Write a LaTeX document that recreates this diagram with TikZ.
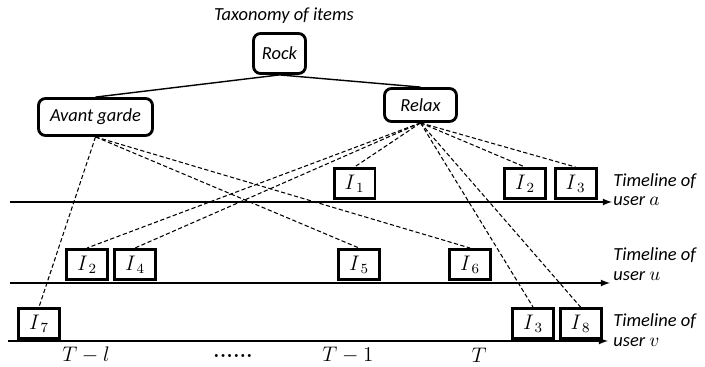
\documentclass[tikz,border=0pt]{standalone}
\usepackage{fontspec}
\setsansfont{Carlito}
\usepackage{tikz}
\tikzset{>=latex}

\begin{document}
\begin{tikzpicture}[x=0.02cm, y=-0.02cm,
    taxbox/.style={draw, line width=1.6pt, rounded corners=4pt, inner sep=0pt, font=\sffamily\itshape\fontsize{10.5}{12}\selectfont},
    itembox/.style={draw, line width=1.7pt, minimum width=0.82cm, minimum height=0.6cm, inner sep=0pt, font=\large},
    link/.style={line width=0.6pt, dash pattern=on 2.4pt off 1.4pt},
    timeline/.style={->, line width=0.8pt},
    tlabel/.style={anchor=west, align=left, inner sep=0pt, font=\sffamily\itshape\fontsize{10.5}{11}\selectfont}]
    \useasboundingbox (0, 0) rectangle (705, 367);
    % taxonomy
    \node (title) at (284, 16) [font=\sffamily\itshape\fontsize{10.5}{12}\selectfont] {Taxonomy of items};
    \node[taxbox, minimum width=1.04cm, minimum height=0.8cm] (rock) at (279.5, 53.5) {Rock};
    \node[taxbox, minimum width=2.28cm, minimum height=0.74cm] (avant) at (95.5, 117) {Avant garde};
    \node[taxbox, minimum width=1.44cm, minimum height=0.66cm] (relax) at (420.5, 105) {Relax};
    \draw[line width=0.8pt] (avant.north) -- (rock.south) -- (relax.north);
    % timelines
    \coordinate (a0) at (10, 202);  \coordinate (a1) at (612, 202);
    \coordinate (u0) at (10, 283);  \coordinate (u1) at (610, 283);
    \coordinate (v0) at (8, 341);   \coordinate (v1) at (608, 341);
    \draw[timeline] (a0) -- (a1);
    \draw[timeline] (u0) -- (u1);
    \draw[timeline] (v0) -- (v1);
    \node[tlabel] (la) at (613, 189.5) {Timeline of\\user $a$};
    \node[tlabel] (lu) at (613, 264) {Timeline of\\user $u$};
    \node[tlabel] (lv) at (613, 330) {Timeline of\\user $v$};
    % items
    \node[itembox] (ia1) at (354.5, 183.5) {$I_{\,1}$};
    \node[itembox] (ia2) at (525, 183.5) {$I_{\,2}$};
    \node[itembox] (ia3) at (575.5, 183.5) {$I_{\,3}$};
    \node[itembox] (iu2) at (87, 264.5) {$I_{\,2}$};
    \node[itembox] (iu4) at (135, 264.5) {$I_{\,4}$};
    \node[itembox] (iu5) at (359, 264.5) {$I_{\,5}$};
    \node[itembox] (iu6) at (470, 264.5) {$I_{\,6}$};
    \node[itembox] (iv7) at (39, 323.5) {$I_{\,7}$};
    \node[itembox] (iv3) at (533, 323.5) {$I_{\,3}$};
    \node[itembox] (iv8) at (580.5, 323.5) {$I_{\,8}$};
    % links to the taxonomy
    \foreach \i in {ia1, ia2, ia3, iu2, iu4, iv3, iv8}
        \draw[link] (relax.south) -- (\i.north);
    \foreach \i in {iv7, iu5, iu6}
        \draw[link] (avant.south) -- (\i.north);
    % time steps
    \node (t0) at (86, 355) [font=\large] {$T-l$};
    \node (tdots) at (233, 356) [font=\large] {\textbf{......}};
    \node (t1) at (348, 355) [font=\large] {$T-1$};
    \node (t2) at (479, 355) [font=\large] {$T$};
\end{tikzpicture}
\end{document}
